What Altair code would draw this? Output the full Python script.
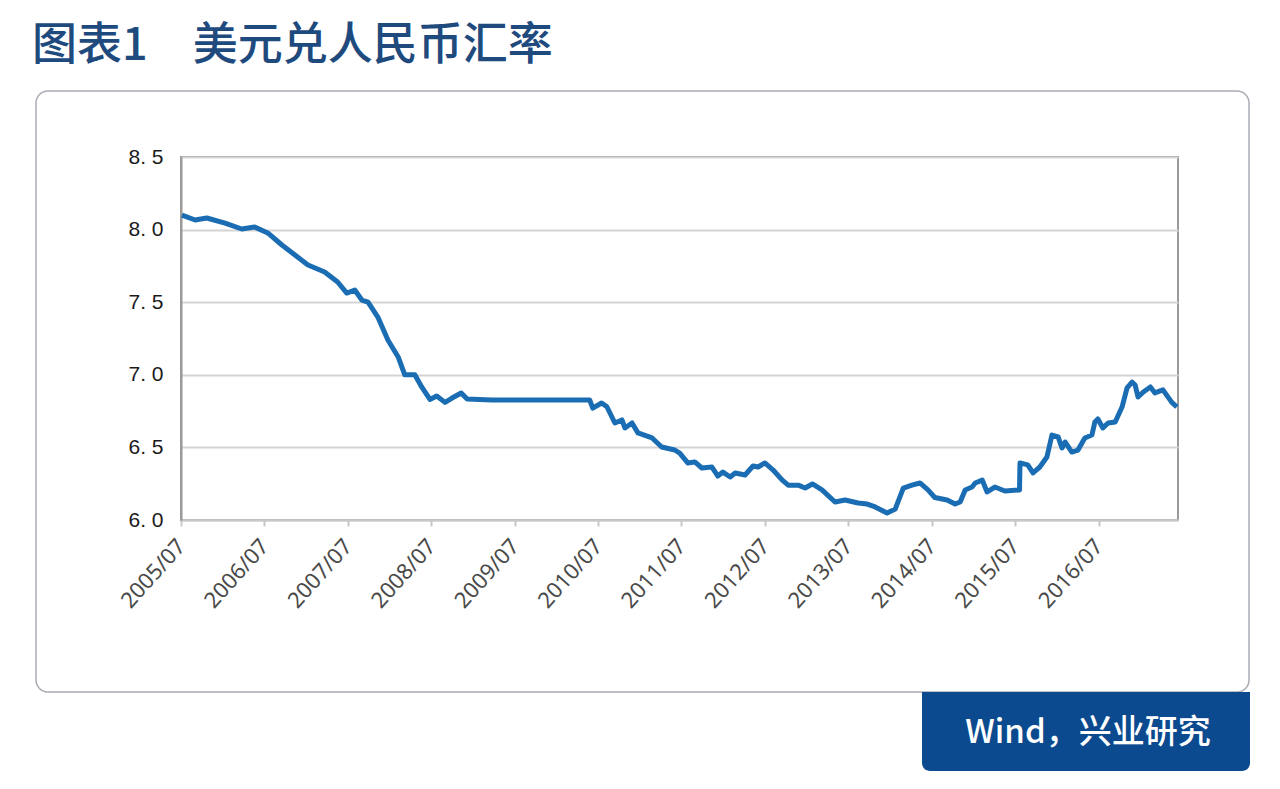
import altair as alt
import pandas as pd

# ---- data ----
dates = [
    "2005-07-05", "2005-09-01", "2005-10-22", "2006-01-10", "2006-03-24", "2006-05-20",
    "2006-07-16", "2006-09-16", "2006-11-12", "2007-01-08", "2007-03-22", "2007-05-18",
    "2007-06-27", "2007-08-01", "2007-09-01", "2007-09-28", "2007-11-10", "2007-12-24",
    "2008-02-07", "2008-03-07", "2008-04-20", "2008-05-20", "2008-06-25", "2008-07-25",
    "2008-08-30", "2008-09-30", "2008-11-09", "2008-12-05", "2009-03-23", "2009-05-19",
    "2010-05-04", "2010-05-26", "2010-06-08", "2010-07-17", "2010-08-09", "2010-09-13",
    "2010-10-14", "2010-10-27", "2010-11-27", "2010-12-23", "2011-02-23", "2011-04-06",
    "2011-06-02", "2011-06-24", "2011-07-29", "2011-08-29", "2011-09-29", "2011-11-12",
    "2011-12-08", "2011-12-30", "2012-01-31", "2012-02-22", "2012-04-05", "2012-05-10",
    "2012-06-01", "2012-07-01", "2012-08-06", "2012-09-15", "2012-10-11", "2012-11-24",
    "2012-12-24", "2013-01-25", "2013-03-08", "2013-05-04", "2013-06-17", "2013-08-13",
    "2013-09-22", "2013-10-27", "2013-12-18", "2014-01-23", "2014-02-27", "2014-04-06",
    "2014-05-11", "2014-06-15", "2014-07-15", "2014-09-07", "2014-10-12", "2014-11-03",
    "2014-11-25", "2014-12-25", "2015-01-08", "2015-02-08", "2015-03-01", "2015-04-04",
    "2015-05-18", "2015-07-21", "2015-07-23", "2015-08-26", "2015-09-18", "2015-10-18",
    "2015-11-18", "2015-12-10", "2016-01-06", "2016-01-23", "2016-02-06", "2016-03-06",
    "2016-04-02", "2016-05-02", "2016-06-02", "2016-06-15", "2016-06-28", "2016-07-20",
    "2016-08-12", "2016-09-12", "2016-10-12", "2016-11-03", "2016-11-25", "2016-12-08",
    "2016-12-21", "2017-01-12", "2017-02-13", "2017-03-05", "2017-04-09", "2017-05-18",
    "2017-06-09",
]
rates = [
    8.100, 8.066, 8.080, 8.045, 8.004, 8.018,
    7.977, 7.894, 7.825, 7.756, 7.708, 7.639,
    7.563, 7.584, 7.515, 7.500, 7.398, 7.240,
    7.123, 7.000, 7.000, 6.916, 6.830, 6.854,
    6.810, 6.840, 6.875, 6.833, 6.826, 6.826,
    6.826, 6.826, 6.770, 6.806, 6.780, 6.668,
    6.689, 6.634, 6.668, 6.600, 6.565, 6.503,
    6.482, 6.460, 6.393, 6.400, 6.358, 6.365,
    6.303, 6.330, 6.296, 6.324, 6.310, 6.372,
    6.365, 6.393, 6.344, 6.275, 6.240, 6.240,
    6.220, 6.248, 6.207, 6.124, 6.138, 6.117,
    6.110, 6.090, 6.048, 6.076, 6.220, 6.240,
    6.255, 6.207, 6.155, 6.138, 6.110, 6.124,
    6.207, 6.227, 6.255, 6.275, 6.193, 6.227,
    6.200, 6.207, 6.393, 6.380, 6.324, 6.365,
    6.434, 6.585, 6.572, 6.496, 6.537, 6.468,
    6.482, 6.565, 6.585, 6.675, 6.696, 6.634,
    6.668, 6.675, 6.778, 6.910, 6.950, 6.930,
    6.847, 6.880, 6.916, 6.875, 6.896, 6.810,
    6.778,
]
y_ticks = [6.0, 6.5, 7.0, 7.5, 8.0, 8.5]
x_tick_years = list(range(2005, 2017))

title_text = "图表1　美元兑人民币汇率"
source_text = "Wind，兴业研究"

df = pd.DataFrame({"date": dates, "rate": rates})
one = pd.DataFrame({"k": [0]})

# plot area origin in page pixels
L, T, W, H = 181, 157, 997, 363

x_scale = alt.Scale(
    type="utc",
    domain=[alt.DateTime(year=2005, month=7, date=1, utc=True),
            alt.DateTime(year=2017, month=6, date=14, utc=True)],
)
y_scale = alt.Scale(domain=[6.0, 8.5], nice=False, zero=False)

line = alt.Chart(df).mark_line(color="#1b6db3", strokeWidth=5, strokeJoin="round").encode(
    x=alt.X(
        "date:T",
        scale=x_scale,
        title=None,
        axis=alt.Axis(
            values=[alt.DateTime(year=yy, month=7, date=1, utc=True) for yy in x_tick_years],
            labelExpr="utcFormat(datum.value, '%Y/%m')",
            labelAngle=-48,
            labelAlign="right",
            labelBaseline="middle",
            labelFont="Noto Sans",
            labelFontSize=22,
            labelColor="#4a4a4a",
            labelPadding=16,
            tickSize=6,
            tickColor="#c8c8c8",
            tickWidth=2,
            domainColor="#c8c8c8",
            domainWidth=2,
            grid=False,
            labelOverlap=False,
            labelFlush=False,
        ),
    ),
    y=alt.Y(
        "rate:Q",
        scale=y_scale,
        title=None,
        axis=alt.Axis(
            values=y_ticks,
            labelExpr="replace(format(datum.value, '.1f'), '.', '. ')",
            labelFont="Liberation Sans",
            labelFontSize=21,
            labelColor="#1a1a1a",
            labelPadding=18,
            tickSize=0,
            domainColor="#9a9a9a",
            domainWidth=2,
            grid=True,
            gridColor="#d4d4d4",
            gridWidth=2,
        ),
    ),
)

panel = alt.Chart(one).mark_rect(
    filled=False, stroke="#a9acb5", strokeWidth=1.5, cornerRadius=12
).encode(
    x=alt.value(36 - L), x2=alt.value(1249 - L),
    y=alt.value(91 - T), y2=alt.value(692 - T),
)

src_box = alt.Chart(one).mark_rect(
    color="#0b4a8f",
    cornerRadiusBottomLeft=8, cornerRadiusBottomRight=8,
).encode(
    x=alt.value(922 - L), x2=alt.value(1250 - L),
    y=alt.value(692 - T), y2=alt.value(771 - T),
)

src_text = alt.Chart(one).mark_text(
    text=source_text, color="#ffffff", font="Noto Sans CJK SC", fontSize=33,
    fontWeight=500, align="center", baseline="middle",
).encode(x=alt.value(1088 - L), y=alt.value(733 - T))

title = alt.Chart(one).mark_text(
    text=title_text, color="#1e4a7e", font="Noto Sans CJK SC", fontSize=45,
    fontWeight=500, align="left", baseline="middle",
).encode(x=alt.value(32 - L), y=alt.value(46 - T))

chart = alt.layer(panel, line, src_box, src_text, title).properties(
    width=W, height=H,
    autosize=alt.AutoSizeParams(type="none"),
    padding={"left": L, "top": T, "right": 1280 - L - W, "bottom": 789 - T - H},
    background="#ffffff",
).configure_view(stroke="#9a9a9a", strokeWidth=2)

chart.save("out.html", embed_options={"renderer": "svg", "actions": False})
